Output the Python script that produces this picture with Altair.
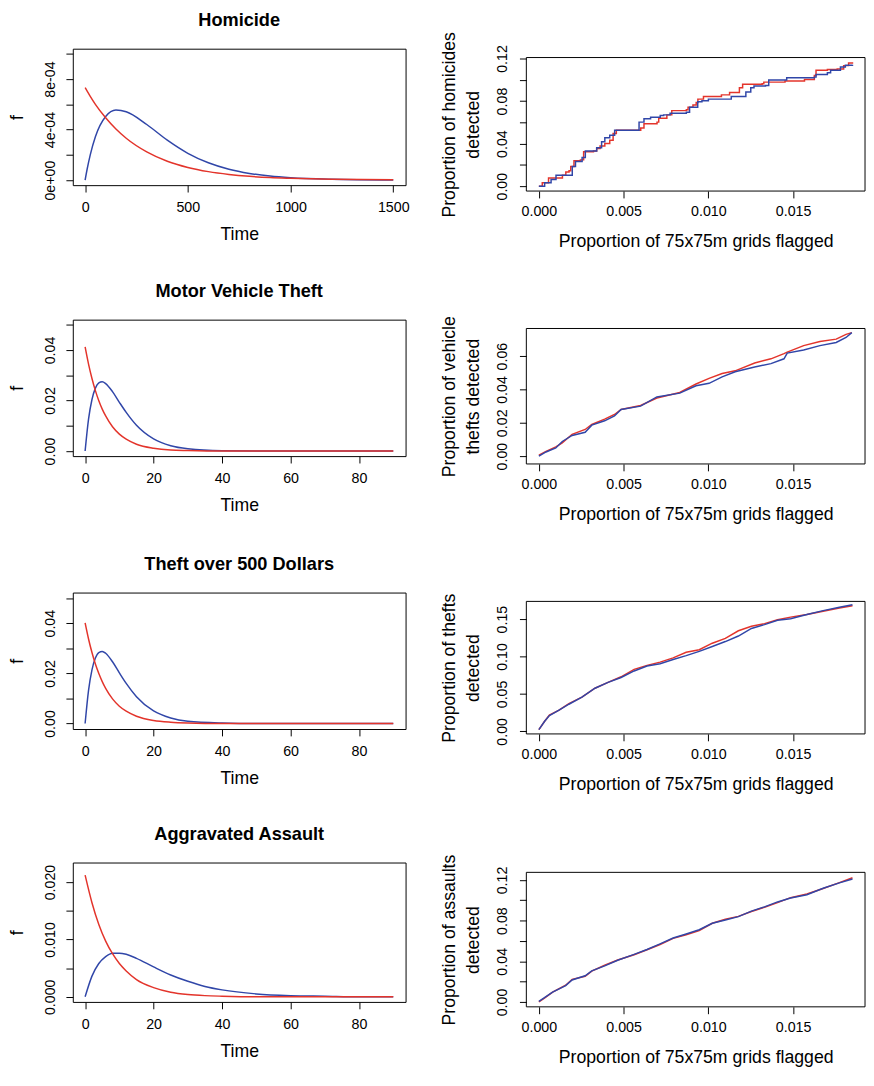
import altair as alt
import pandas as pd

RED = "#E3342B"
BLUE = "#3046A8"
FONT = "Liberation Sans"

# ---------------- left column: fitted densities ----------------
hom_time = [0, 10, 25, 50, 100, 150, 200, 300, 400, 500, 600, 700, 800, 900, 1000, 1200, 1500]
hom_red = [7.32e-4, 7.04e-4, 6.63e-4, 6.00e-4, 4.93e-4, 4.04e-4, 3.31e-4, 2.23e-4, 1.49e-4,
           1.00e-4, 0.67e-4, 0.45e-4, 0.30e-4, 0.20e-4, 0.14e-4, 0.06e-4, 0.02e-4]
hom_blue = [0.0, 0.88e-4, 2.00e-4, 3.43e-4, 5.03e-4, 5.54e-4, 5.41e-4, 4.40e-4, 3.16e-4,
            2.12e-4, 1.37e-4, 0.86e-4, 0.53e-4, 0.32e-4, 0.19e-4, 0.07e-4, 0.01e-4]

mvt_time = [0, 1, 2, 3, 4, 5, 6, 8, 10, 12, 15, 20, 25, 30, 40, 50, 60, 70, 80, 90]
mvt_red = [0.0412, 0.0344, 0.0287, 0.0239, 0.0199, 0.0166, 0.0139, 0.0096, 0.0067, 0.0047,
           0.0027, 0.0011, 0.0004, 0.0002, 0.0, 0.0, 0.0, 0.0, 0.0, 0.0]
mvt_blue = [0.0, 0.0126, 0.0204, 0.0249, 0.0270, 0.0274, 0.0267, 0.0235, 0.0193, 0.0153,
            0.0102, 0.0048, 0.0021, 0.0009, 0.0001, 0.0, 0.0, 0.0, 0.0, 0.0]

thf_time = [0, 1, 2, 3, 4, 5, 6, 8, 10, 12, 15, 20, 25, 30, 40, 50, 60, 70, 80, 90]
thf_red = [0.0401, 0.0337, 0.0283, 0.0237, 0.0199, 0.0167, 0.0140, 0.0098, 0.0069, 0.0049,
           0.0029, 0.0012, 0.0005, 0.0002, 0.0, 0.0, 0.0, 0.0, 0.0, 0.0]
thf_blue = [0.0, 0.0132, 0.0214, 0.0261, 0.0283, 0.0287, 0.0280, 0.0246, 0.0202, 0.0160,
            0.0107, 0.0050, 0.0022, 0.0009, 0.0002, 0.0, 0.0, 0.0, 0.0, 0.0]

asl_time = [0, 2, 4, 6, 8, 10, 12, 15, 20, 25, 30, 35, 40, 50, 60, 70, 80, 90]
asl_red = [0.0212, 0.0164, 0.0126, 0.0097, 0.0075, 0.0058, 0.0045, 0.0030, 0.0016, 0.0008,
           0.0004, 0.0002, 0.0001, 0.0, 0.0, 0.0, 0.0, 0.0]
asl_blue = [0.0, 0.0036, 0.0058, 0.0070, 0.0076, 0.0076, 0.0074, 0.0067, 0.0052, 0.0038,
            0.0027, 0.0018, 0.0012, 0.0005, 0.0002, 0.0001, 0.0, 0.0]

# ---------------- right column: detection curves ----------------
hom_red_x = [0, 0.0002, 0.00057, 0.00139, 0.00159, 0.00178, 0.00188, 0.00207, 0.00245, 0.00264,
             0.00322, 0.00341, 0.00361, 0.00389, 0.00418, 0.00438, 0.00457, 0.00601, 0.0062,
             0.00697, 0.00707, 0.00755, 0.00784, 0.0087, 0.0088, 0.00909, 0.00928, 0.00938,
             0.00971, 0.01077, 0.01125, 0.01183, 0.01202, 0.01317, 0.01327, 0.01452, 0.01567,
             0.01625, 0.01635, 0.01702, 0.0176, 0.01798, 0.01827, 0.0185]
hom_red_y = [0, 0.0031, 0.0077, 0.0102, 0.0133, 0.0145, 0.0185, 0.0238, 0.0247, 0.0324,
             0.0330, 0.0355, 0.0377, 0.0401, 0.0432, 0.0494, 0.0525, 0.0546, 0.0586,
             0.0602, 0.0639, 0.0670, 0.0710, 0.0719, 0.0741, 0.0762, 0.0787, 0.0818,
             0.0843, 0.0858, 0.0880, 0.0926, 0.0957, 0.0963, 0.0978, 0.0988, 0.1003,
             0.1040, 0.1090, 0.1096, 0.1102, 0.1133, 0.1157, 0.1164]
hom_blue_x = [0, 0.00034, 0.00072, 0.00101, 0.00197, 0.00216, 0.00255, 0.00274, 0.00341, 0.0037,
              0.00389, 0.00418, 0.00447, 0.00591, 0.0062, 0.00659, 0.00716, 0.00736, 0.00774,
              0.0087, 0.00889, 0.00937, 0.00962, 0.0100, 0.01135, 0.01221, 0.0125, 0.01269,
              0.01337, 0.01356, 0.01462, 0.01625, 0.01635, 0.01702, 0.01721, 0.01779, 0.01808,
              0.0185]
hom_blue_y = [0, 0.0031, 0.0062, 0.0102, 0.0185, 0.0231, 0.0269, 0.0330, 0.0361, 0.0417,
              0.0454, 0.0478, 0.0525, 0.0602, 0.0633, 0.0648, 0.0664, 0.0670, 0.0685,
              0.0694, 0.0741, 0.0793, 0.0802, 0.0818, 0.0843, 0.0886, 0.0926, 0.0941,
              0.0947, 0.0997, 0.1019, 0.1025, 0.1049, 0.1065, 0.1090, 0.1120, 0.1136,
              0.1142]

veh_x = [0, 0.00042, 0.0010, 0.00138, 0.00196, 0.00273, 0.00312, 0.00388, 0.00446, 0.00485,
         0.0060, 0.00696, 0.00831, 0.00927, 0.01004, 0.01081, 0.01158, 0.01273, 0.01369,
         0.01446, 0.01465, 0.01562, 0.01658, 0.01754, 0.01812, 0.01846]
veh_red = [0.0006, 0.0029, 0.0055, 0.0080, 0.0131, 0.0160, 0.0190, 0.0222, 0.0250, 0.0280,
           0.0304, 0.0349, 0.0382, 0.0433, 0.0467, 0.0496, 0.0512, 0.0559, 0.0584,
           0.0615, 0.0624, 0.0663, 0.0688, 0.0702, 0.0731, 0.0741]
veh_blue = [0.0, 0.0025, 0.0049, 0.0088, 0.0124, 0.0143, 0.0186, 0.0212, 0.0241, 0.0280,
            0.0300, 0.0355, 0.0378, 0.0422, 0.0437, 0.0476, 0.0506, 0.0535, 0.0555,
            0.0584, 0.0618, 0.0637, 0.0663, 0.0682, 0.0712, 0.0741]

thf_x = [0, 0.00033, 0.00062, 0.00119, 0.00177, 0.00254, 0.00331, 0.00408, 0.00485, 0.00562,
         0.00638, 0.00715, 0.00792, 0.00869, 0.00946, 0.01023, 0.0110, 0.01177, 0.01254,
         0.01331, 0.01408, 0.01485, 0.01581, 0.01677, 0.01773, 0.0185]
thf_det_red = [0.0022, 0.0131, 0.0218, 0.0284, 0.0371, 0.0458, 0.0576, 0.0654, 0.0729, 0.0829,
               0.0882, 0.0925, 0.0982, 0.1056, 0.1091, 0.1178, 0.1243, 0.1344, 0.1405,
               0.1440, 0.1492, 0.1527, 0.1562, 0.1606, 0.1649, 0.1680]
thf_det_blue = [0.0022, 0.0131, 0.0210, 0.0284, 0.0362, 0.0458, 0.0576, 0.0654, 0.0720, 0.0807,
                0.0873, 0.0903, 0.0960, 0.1012, 0.1069, 0.1134, 0.1200, 0.1274, 0.1375,
                0.1427, 0.1484, 0.1506, 0.1562, 0.1614, 0.1658, 0.1693]

asl_x = [0, 0.00033, 0.00081, 0.00158, 0.00196, 0.00273, 0.00312, 0.00388, 0.00465, 0.00562,
         0.00638, 0.00715, 0.00792, 0.00869, 0.00946, 0.01023, 0.0110, 0.01177, 0.01254,
         0.01331, 0.01408, 0.01485, 0.01581, 0.01677, 0.01773, 0.0185]
asl_det_red = [0.0, 0.0038, 0.0097, 0.0165, 0.0222, 0.0252, 0.0303, 0.0361, 0.0413, 0.0465,
               0.0513, 0.0565, 0.0626, 0.0661, 0.0703, 0.0774, 0.0813, 0.0842, 0.0890,
               0.0932, 0.0977, 0.1026, 0.1062, 0.1116, 0.1174, 0.1222]
asl_det_blue = [0.0006, 0.0042, 0.0097, 0.0161, 0.0216, 0.0258, 0.0306, 0.0355, 0.0410, 0.0468,
                0.0516, 0.0571, 0.0629, 0.0668, 0.0710, 0.0774, 0.0806, 0.0839, 0.0894,
                0.0935, 0.0984, 0.1023, 0.1055, 0.1119, 0.1171, 0.1210]

left_titles = ["Homicide", "Motor Vehicle Theft", "Theft over 500 Dollars", "Aggravated Assault"]
right_ytitles = [["Proportion of homicides", "detected"],
                 ["Proportion of vehicle", "thefts detected"],
                 ["Proportion of thefts", "detected"],
                 ["Proportion of assaults", "detected"]]
right_xtitle = "Proportion of 75x75m grids flagged"
right_xticks = [0.0, 0.005, 0.010, 0.015]

LW = 339   # left plot width
RW = 345   # right plot width


def label_expr(labels, eps):
    expr = "''"
    for v, t in reversed(labels):
        expr = f"abs(datum.value - ({v})) < {eps} ? '{t}' : " + expr
    return expr


def left_panel(t, red, blue, title, xdom, xticks, ydom, yticks, ylabels, eps, h):
    xe = alt.X("t:Q", scale=alt.Scale(domain=xdom, nice=False, zero=False),
               axis=alt.Axis(values=xticks, format="d", title="Time", labelPadding=9,
                             titlePadding=12, labelFlush=False, labelOverlap=False))
    ye = alt.Y("f:Q", scale=alt.Scale(domain=ydom, nice=False, zero=False),
               axis=alt.Axis(values=yticks, labelExpr=label_expr(ylabels, eps), title="f",
                             labelAngle=270, labelAlign="center", labelBaseline="alphabetic",
                             labelPadding=12, titlePadding=16, labelFlush=False,
                             labelOverlap=False))
    b = alt.Chart(pd.DataFrame({"t": t, "f": blue})).mark_line(
        color=BLUE, strokeWidth=1.5, interpolate="monotone").encode(x=xe, y=ye)
    r = alt.Chart(pd.DataFrame({"t": t, "f": red})).mark_line(
        color=RED, strokeWidth=1.5, interpolate="monotone").encode(x=xe, y=ye)
    return alt.layer(b, r).properties(
        width=LW, height=h,
        title=alt.TitleParams(title, frame="group", anchor="middle", baseline="alphabetic",
                              offset=4.5))


def right_panel(xr, yr, xb, yb, ytitle, ydom, yticks, ylabels, box_h, top_pad, interp):
    # plot area starts top_pad px above the framed box, as in the original layout
    ext_top = ydom[1] + top_pad * (ydom[1] - ydom[0]) / box_h
    xe = alt.X("x:Q", scale=alt.Scale(domain=[-0.00074, 0.01924], nice=False, zero=False),
               axis=alt.Axis(values=right_xticks, format=".3f", title=right_xtitle,
                             labelPadding=7, titlePadding=15, labelFlush=False,
                             labelOverlap=False))
    ye = alt.Y("y:Q", scale=alt.Scale(domain=[ydom[0], ext_top], nice=False, zero=False),
               axis=alt.Axis(values=yticks, labelExpr=label_expr(ylabels, 1e-6), title=ytitle,
                             labelAngle=270, labelAlign="center", labelBaseline="alphabetic",
                             labelPadding=13, titlePadding=13, titleLineHeight=24,
                             titleY=top_pad + box_h / 2,
                             labelFlush=False, labelOverlap=False))
    frame = alt.Chart(pd.DataFrame({"k": [0]})).mark_rect(
        fill="transparent", stroke="black", strokeWidth=1).encode(
        x=alt.value(0), x2=alt.value(RW), y=alt.value(top_pad), y2=alt.value(top_pad + box_h))
    r = alt.Chart(pd.DataFrame({"x": xr, "y": yr})).mark_line(
        color=RED, strokeWidth=1.5, interpolate=interp).encode(x=xe, y=ye)
    b = alt.Chart(pd.DataFrame({"x": xb, "y": yb})).mark_line(
        color=BLUE, strokeWidth=1.5, interpolate=interp).encode(x=xe, y=ye)
    return alt.layer(frame, r, b).properties(
        width=RW, height=box_h + top_pad,
        view=alt.ViewBackground(stroke="transparent"))


panels = [
    left_panel(hom_time, hom_red, hom_blue, left_titles[0], [-60, 1560], [0, 500, 1000, 1500],
               [-0.00004, 0.00104], [0, 0.0002, 0.0004, 0.0006, 0.0008, 0.001],
               [(0, "0e+00"), (0.0004, "4e-04"), (0.0008, "8e-04")], 1e-9, 139),
    right_panel(hom_red_x, hom_red_y, hom_blue_x, hom_blue_y, right_ytitles[0],
                [-0.0046, 0.1209], [0, 0.02, 0.04, 0.06, 0.08, 0.10, 0.12],
                [(0, "0.00"), (0.04, "0.04"), (0.08, "0.08"), (0.12, "0.12")], 136, 9,
                "step-after"),
    left_panel(mvt_time, mvt_red, mvt_blue, left_titles[1], [-3.6, 93.6], [0, 20, 40, 60, 80],
               [-0.002, 0.052], [0, 0.01, 0.02, 0.03, 0.04, 0.05],
               [(0, "0.00"), (0.02, "0.02"), (0.04, "0.04")], 1e-6, 139),
    right_panel(veh_x, veh_red, veh_x, veh_blue, right_ytitles[1],
                [-0.0047, 0.0766], [0, 0.02, 0.04, 0.06],
                [(0, "0.00"), (0.02, "0.02"), (0.04, "0.04"), (0.06, "0.06")], 138, 9, "linear"),
    left_panel(thf_time, thf_red, thf_blue, left_titles[2], [-3.6, 93.6], [0, 20, 40, 60, 80],
               [-0.0022, 0.0522], [0, 0.01, 0.02, 0.03, 0.04, 0.05],
               [(0, "0.00"), (0.02, "0.02"), (0.04, "0.04")], 1e-6, 139),
    right_panel(thf_x, thf_det_red, thf_x, thf_det_blue, right_ytitles[2],
                [-0.0035, 0.1737], [0, 0.05, 0.10, 0.15],
                [(0, "0.00"), (0.05, "0.05"), (0.10, "0.10"), (0.15, "0.15")], 135, 9, "linear"),
    left_panel(asl_time, asl_red, asl_blue, left_titles[3], [-3.6, 93.6], [0, 20, 40, 60, 80],
               [-0.0009, 0.0234], [0, 0.005, 0.010, 0.015, 0.020],
               [(0, "0.000"), (0.010, "0.010"), (0.020, "0.020")], 1e-7, 142),
    right_panel(asl_x, asl_det_red, asl_x, asl_det_blue, right_ytitles[3],
                [-0.0048, 0.1275], [0, 0.02, 0.04, 0.06, 0.08, 0.10, 0.12],
                [(0, "0.00"), (0.04, "0.04"), (0.08, "0.08"), (0.12, "0.12")], 137, 10,
                "linear"),
]

chart = alt.concat(*panels, columns=2, spacing={"row": 31, "column": 30}).properties(
    padding={"top": -7.5, "left": 0, "right": 0, "bottom": 0},
    align="each", bounds="full", background="white"
).configure_view(
    stroke="black", strokeWidth=1
).configure_axis(
    domain=False, grid=False, tickColor="black", tickSize=7, tickWidth=1,
    labelFont=FONT, labelFontSize=14.5, labelColor="black",
    titleFont=FONT, titleFontSize=18, titleFontWeight="normal", titleColor="black"
).configure_title(
    font=FONT, fontSize=18.5, fontWeight="bold", color="black"
)

chart.save("out.html", embed_options={"renderer": "svg", "actions": False})
